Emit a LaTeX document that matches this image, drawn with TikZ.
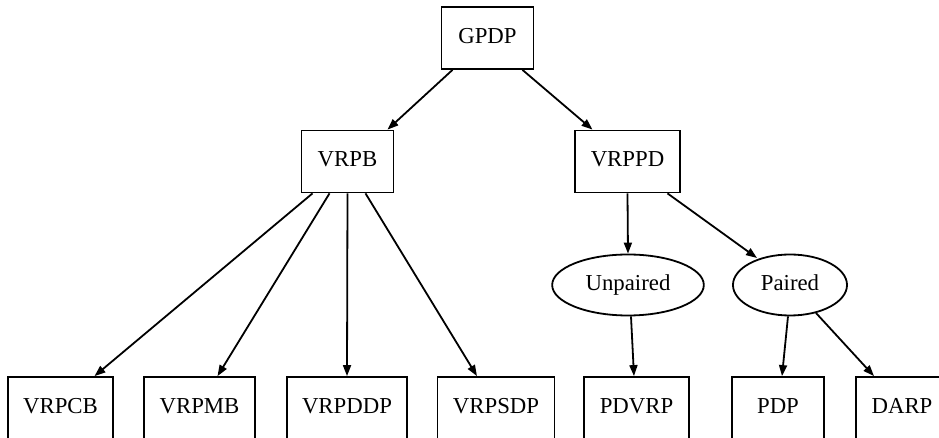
\documentclass[tikz,border=0pt]{standalone}
\usepackage{fontspec}
\setmainfont{Liberation Serif}
\usepackage{tikz}
\usetikzlibrary{arrows.meta,calc,shapes.geometric}
\tikzstyle{box}=[draw,rectangle,line width=0.9,minimum width=46,minimum height=31,
                 inner xsep=7.7,inner ysep=0,text height=8pt,text depth=2.5pt,
                 font=\fontsize{11.4}{13}\selectfont]
\tikzstyle{oval}=[draw,ellipse,line width=0.9,minimum height=30.5,
                  inner xsep=5.6,inner ysep=0,text height=8pt,text depth=2.5pt,
                  font=\fontsize{11.4}{13}\selectfont]
\tikzstyle{edge}=[-{Triangle[length=5.5pt,width=4pt]},line width=0.9]

\begin{document}
\begin{tikzpicture}[x=0.5pt,y=-0.5pt]
  \def\ya{38}    % top row
  \def\yb{161.5} % second row
  \def\yc{285}   % ellipse row
  \def\yd{408}   % leaf row
  \useasboundingbox (0,0) rectangle (939,438);
  
  % NODES
  \node[box] (GPDP) at (487.5,\ya) {GPDP};
  \node[box] (VRPB) at (347.5,\yb) {VRPB};
  \node[box] (VRPPD) at (627.5,\yb) {VRPPD};
  \node[oval] (Unpaired) at (628,\yc) {Unpaired};
  \node[oval] (Paired) at (790,\yc) {Paired};
  \node[box] (VRPCB) at (60.5,\yd) {VRPCB};
  \node[box] (VRPMB) at (199.5,\yd) {VRPMB};
  \node[box] (VRPDDP) at (347,\yd) {VRPDDP};
  \node[box] (VRPSDP) at (496,\yd) {VRPSDP};
  \node[box] (PDVRP) at (636.5,\yd) {PDVRP};
  \node[box] (PDP) at (778,\yd) {PDP};
  \node[box] (DARP) at (902,\yd) {DARP};
  
  % EDGES
  \draw[edge] ($(GPDP.south)+(-35,0)$) -- ($(VRPB.north)+(40,0)$);
  \draw[edge] ($(GPDP.south)+(35,0)$) -- ($(VRPPD.north)+(-35,0)$);
  \draw[edge] ($(VRPB.south)+(-35,0)$) -- ($(VRPCB.north)+(34,0)$);
  \draw[edge] ($(VRPB.south)+(-18,0)$) -- ($(VRPMB.north)+(18,0)$);
  \draw[edge] (VRPB.south) -- (VRPDDP.north);
  \draw[edge] ($(VRPB.south)+(18,0)$) -- ($(VRPSDP.north)+(-19,0)$);
  \draw[edge] (VRPPD.south) -- (Unpaired.north);
  \draw[edge] ($(VRPPD.south)+(40,0)$) -- ($(Paired.center)+(-33,-27)$);
  \draw[edge] ($(Unpaired.south)+(3,0)$) -- ($(PDVRP.north)+(-2.5,0)$);
  \draw[edge] ($(Paired.south)+(-2,0)$) -- ($(PDP.north)+(4,0)$);
  \draw[edge] ($(Paired.center)+(26,28)$) -- ($(DARP.north)+(-28,0)$);
  
\end{tikzpicture}
\end{document}
